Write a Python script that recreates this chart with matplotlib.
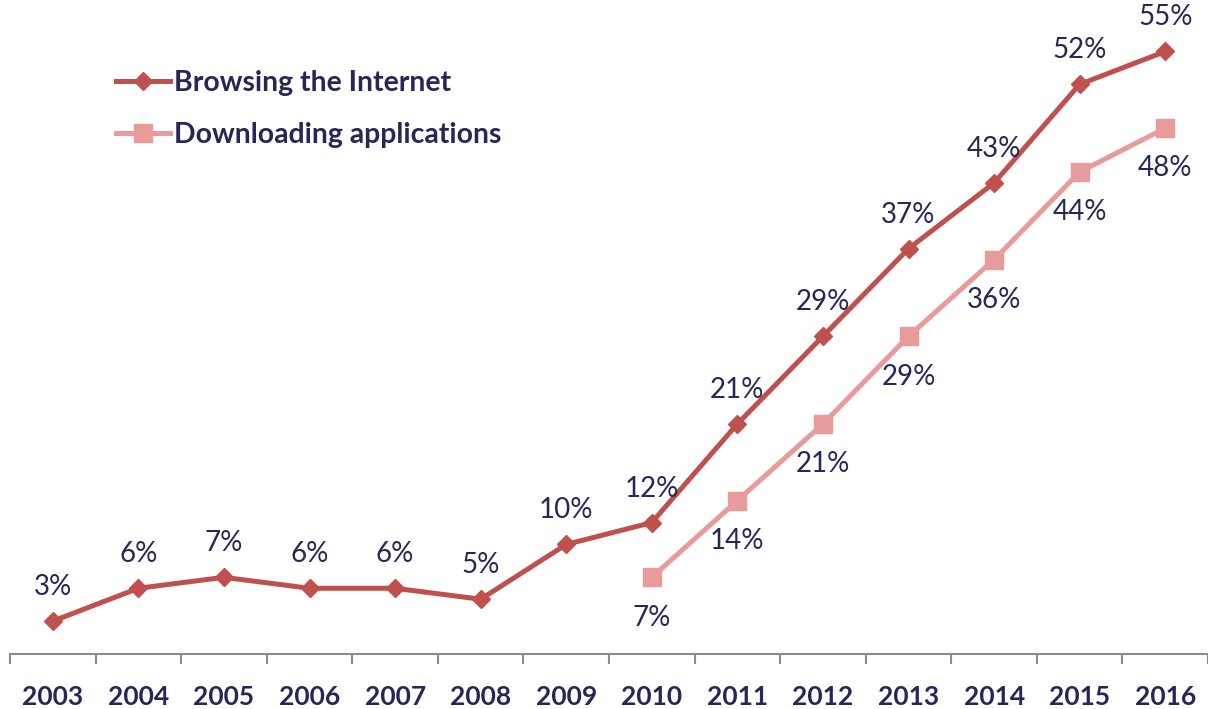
import matplotlib.pyplot as plt
import numpy as np

years = ['2003', '2004', '2005', '2006', '2007', '2008', '2009',
         '2010', '2011', '2012', '2013', '2014', '2015', '2016']
browsing = [3, 6, 7, 6, 6, 5, 10, 12, 21, 29, 37, 43, 52, 55]
download_years = ['2010', '2011', '2012', '2013', '2014', '2015', '2016']
downloading = [7, 14, 21, 29, 36, 44, 48]

plt.rcParams['font.family'] = ['Lato', 'DejaVu Sans']
navy = '#262758'
red = '#C0504D'
pink = '#E99A9A'

fig = plt.figure(figsize=(12.08, 7.09), dpi=100)
ax = fig.add_axes([10 / 1208, 55 / 709, 1198 / 1208, 654 / 709])

x = np.arange(len(years))
xd = np.array([years.index(y) for y in download_years])

ax.plot(x, browsing, color=red, lw=3.6, marker='D', ms=9,
        label='Browsing the Internet', zorder=3)
ax.plot(xd, downloading, color=pink, lw=3.6, marker='s', ms=13,
        label='Downloading applications', zorder=2)

# value labels: above for browsing, below for downloading
for xi, v in zip(x, browsing):
    ax.annotate(f'{v}%', (xi, v), xytext=(0, 24.5), textcoords='offset points',
                ha='center', va='center', fontsize=20, color=navy)
for xi, v in zip(xd, downloading):
    ax.annotate(f'{v}%', (xi, v), xytext=(0, -29), textcoords='offset points',
                ha='center', va='center', fontsize=20, color=navy)

ax.set_xlim(-0.5, len(years) - 0.5)
ax.set_ylim(0, 59.7)
ax.set_xticks(x)
ax.set_xticklabels(years, fontsize=19, fontweight='bold', color=navy)
ax.set_xticks(np.arange(-0.5, len(years)), minor=True)
ax.tick_params(axis='x', which='major', length=0, pad=22)
ax.tick_params(axis='x', which='minor', length=7, width=1.5, color='#8c8c8c',
               direction='out')
ax.set_yticks([])
for s in ['top', 'right', 'left']:
    ax.spines[s].set_visible(False)
ax.spines['bottom'].set_color('#8c8c8c')
ax.spines['bottom'].set_linewidth(1.5)

leg = ax.legend(loc='upper left', bbox_to_anchor=(116 / 1208, 1 - 70 / 709),
                bbox_transform=fig.transFigure, frameon=False,
                borderpad=0, borderaxespad=0,
                prop={'weight': 'bold', 'size': 20.4}, handlelength=1.9,
                labelspacing=0.92, handletextpad=0.15)
for t in leg.get_texts():
    t.set_color(navy)

fig.savefig('out.png', dpi=100)
